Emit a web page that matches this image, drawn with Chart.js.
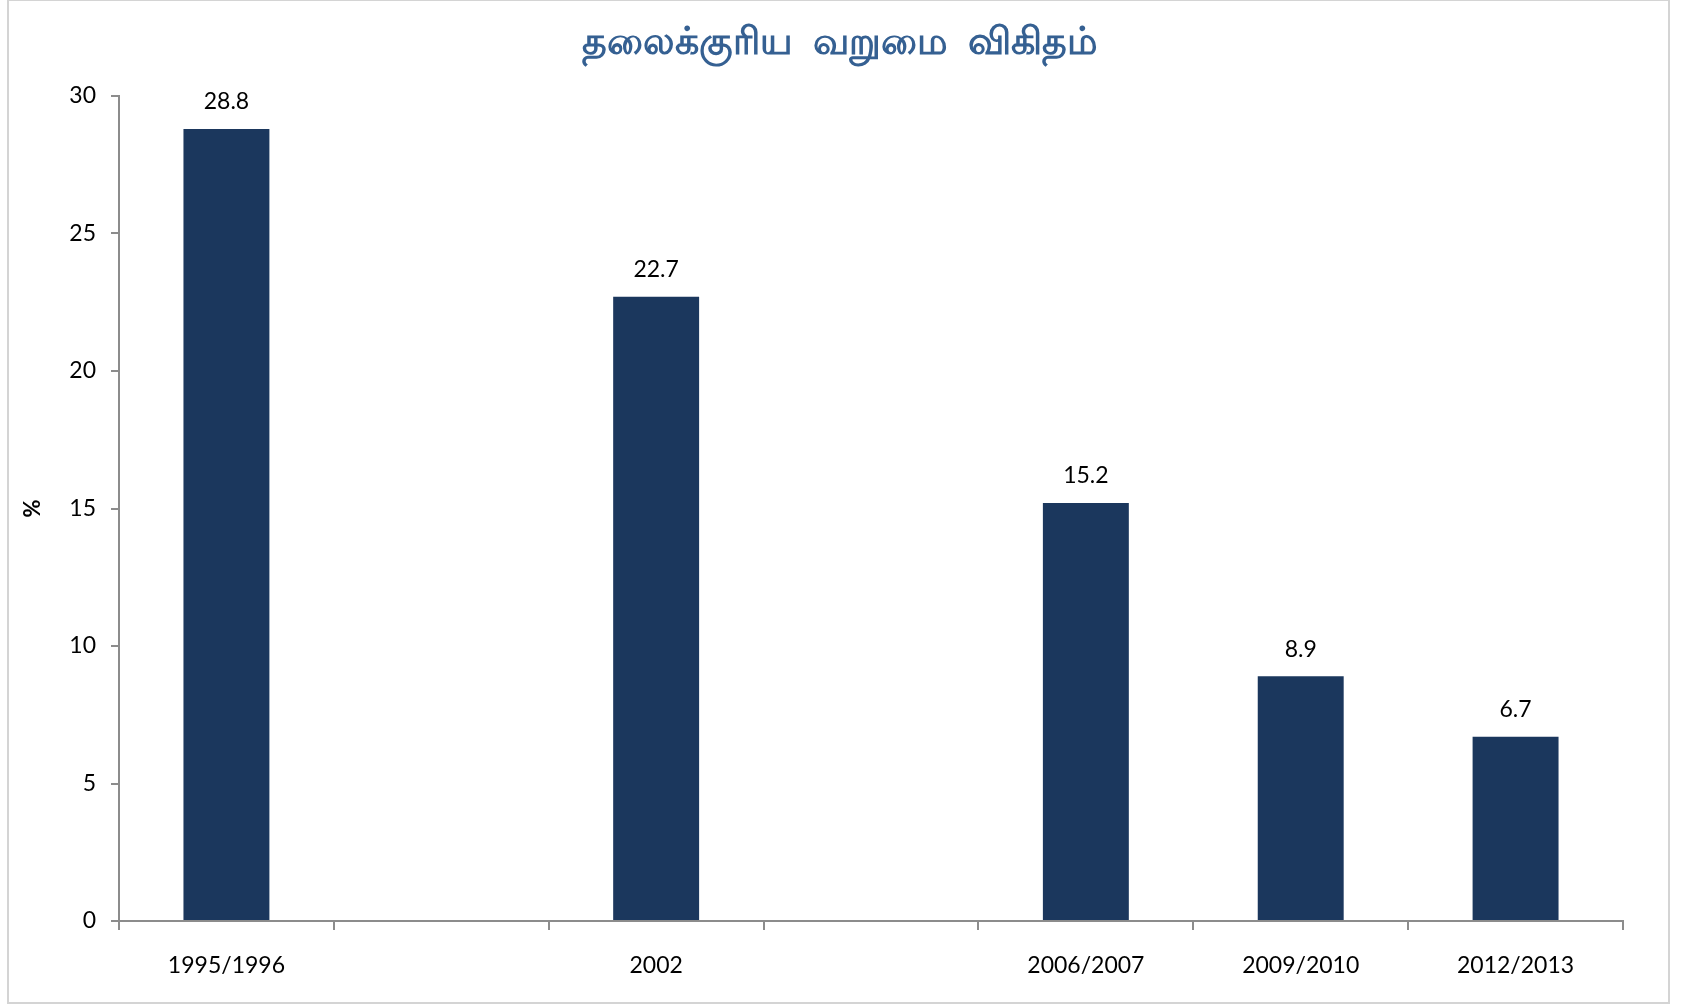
<!DOCTYPE html>
<html>
<head>
<meta charset="utf-8">
<script src="https://cdn.jsdelivr.net/npm/chart.js@4/dist/chart.umd.min.js"></script>
<style>
  html, body { margin: 0; padding: 0; background: #fff; }
  .wrap { position: relative; width: 1693px; height: 1007px; }
  .frame {
    position: absolute; left: 7px; top: -1px; width: 1663px; height: 1005px;
    border: 2px solid #d4d4d4; box-sizing: border-box; pointer-events: none;
  }
  canvas { position: absolute; left: 0; top: 0; }
</style>
</head>
<body>
<div class="wrap">
  <canvas id="chart" width="1693" height="1007"></canvas>
  <div class="frame"></div>
</div>
<script>
// survey years (empty slots keep the spacing of the original axis)
const years = ["1995/1996", "", "2002", "", "2006/2007", "2009/2010", "2012/2013"];
// headcount poverty ratio, %
const povertyRatio = [28.8, null, 22.7, null, 15.2, 8.9, 6.7];
const yTicks = [0, 5, 10, 15, 20, 25, 30];

const chartTitle = "தலைக்குரிய  வறுமை  விகிதம்";
const labelFont = "Lato, 'Open Sans', sans-serif";
const axisGray = "#8c8c8c";

// title sits a bit left of the canvas centre, like the original
const chartHeading = {
  id: "chartHeading",
  afterDraw(chart) {
    const { ctx } = chart;
    ctx.save();
    ctx.font = "bold 38px 'Noto Sans', sans-serif";
    ctx.fillStyle = "#356092";
    ctx.textAlign = "center";
    ctx.textBaseline = "middle";
    ctx.fillText(chartTitle, 840, 43);
    ctx.restore();
  },
};

// draws the value above each bar
const valueLabels = {
  id: "valueLabels",
  afterDatasetsDraw(chart) {
    const { ctx } = chart;
    const meta = chart.getDatasetMeta(0);
    ctx.save();
    ctx.font = "23px " + labelFont;
    ctx.fillStyle = "#000";
    ctx.textAlign = "center";
    ctx.textBaseline = "middle";
    meta.data.forEach((bar, i) => {
      const v = povertyRatio[i];
      if (v === null) return;
      ctx.fillText(v.toFixed(1), bar.x, bar.y - 27);
    });
    ctx.restore();
  },
};

new Chart(document.getElementById("chart"), {
  type: "bar",
  data: {
    labels: years,
    datasets: [
      {
        data: povertyRatio,
        backgroundColor: "#1b375d",
        barPercentage: 0.4,
        categoryPercentage: 1,
      },
    ],
  },
  options: {
    responsive: false,
    animation: false,
    layout: { padding: { left: 20, right: 70, top: 96, bottom: 0 } },
    plugins: {
      legend: { display: false },
      tooltip: { enabled: false },
      title: { display: false },
    },
    scales: {
      x: {
        offset: true,
        border: { display: true, color: axisGray, width: 2 },
        grid: {
          offset: true,
          drawOnChartArea: false,
          drawTicks: true,
          tickLength: 9,
          color: axisGray,
          lineWidth: 2,
        },
        ticks: {
          color: "#000",
          font: { size: 23, family: labelFont },
          padding: 22,
          maxRotation: 0,
          autoSkip: false,
        },
        afterFit(scale) {
          scale.height = 86;
        },
      },
      y: {
        min: 0,
        max: 30,
        afterBuildTicks(scale) {
          scale.ticks = yTicks.map((v) => ({ value: v }));
        },
        border: { display: true, color: axisGray, width: 2 },
        grid: {
          drawOnChartArea: false,
          drawTicks: true,
          tickLength: 8,
          color: axisGray,
          lineWidth: 2,
        },
        ticks: {
          color: "#000",
          font: { size: 23, family: labelFont },
          padding: 15,
        },
        title: {
          display: true,
          text: "%",
          color: "#000",
          font: { size: 22, weight: "bold", family: labelFont, lineHeight: 1.2 },
          padding: 0,
        },
        afterFit(scale) {
          scale.width = 99;
        },
      },
    },
  },
  plugins: [valueLabels, chartHeading],
});
</script>
</body>
</html>
